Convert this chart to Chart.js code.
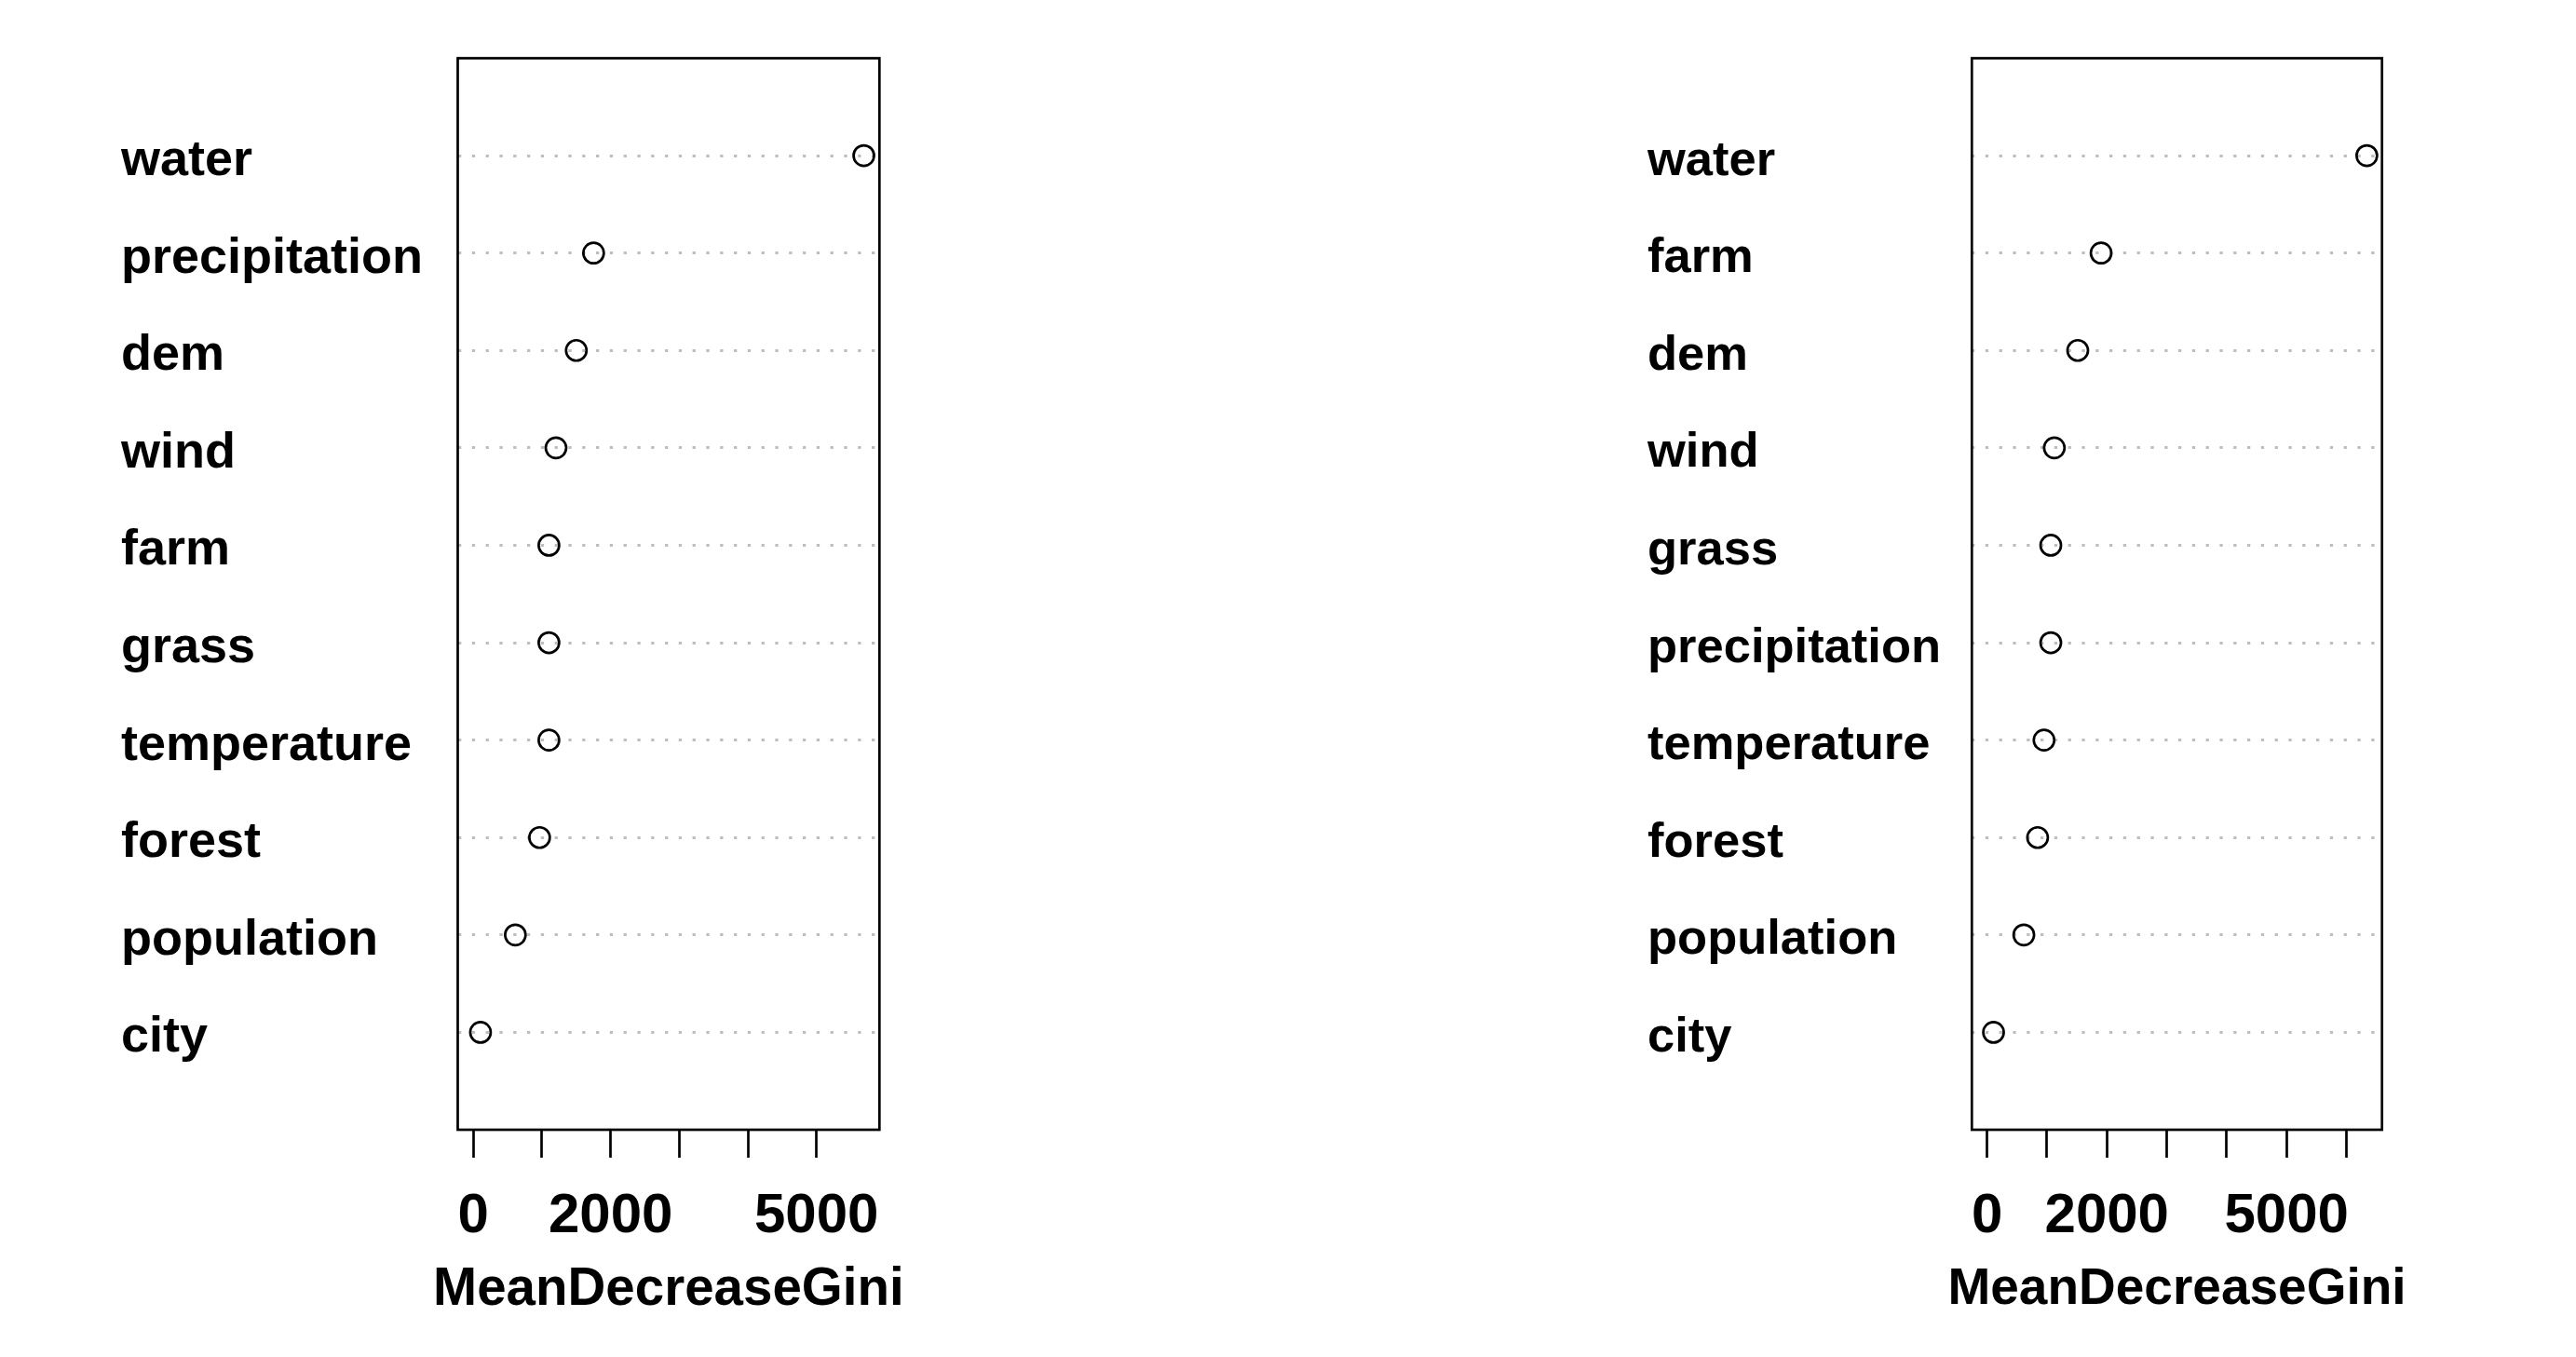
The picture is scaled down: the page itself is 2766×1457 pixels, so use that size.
<!DOCTYPE html>
<html>
<head>
<meta charset="utf-8">
<script src="https://cdn.jsdelivr.net/npm/chart.js@4.4.1/dist/chart.umd.min.js"></script>
<style>
  body { margin: 0; background: #fff; }
  canvas { position: absolute; top: 0; }
</style>
</head>
<body>
<canvas id="leftChart" width="900" height="1457" style="left:100px"></canvas>
<canvas id="rightChart" width="900" height="1457" style="left:1740px"></canvas>
<script>
// variable importance
const leftLabels = ['water', 'precipitation', 'dem', 'wind', 'farm', 'grass', 'temperature', 'forest', 'population', 'city'];
const leftValues = [5690, 1752, 1500, 1204, 1101, 1101, 1101, 965, 612, 104];

const rightLabels = ['water', 'farm', 'dem', 'wind', 'grass', 'precipitation', 'temperature', 'forest', 'population', 'city'];
const rightValues = [6340, 1904, 1514, 1123, 1064, 1064, 951, 844, 614, 108];

const leftTicks = [0, 1000, 2000, 3000, 4000, 5000];
const rightTicks = [0, 1000, 2000, 3000, 4000, 5000, 6000];
const shownTickLabels = [0, 2000, 5000];
const axisTitle = 'MeanDecreaseGini';

const fontFamily = '"Liberation Sans", Arial, sans-serif';
Chart.defaults.font.family = fontFamily;
Chart.defaults.font.weight = 'bold';
Chart.defaults.color = '#000';

// frame round the plot and the x title (chart.js squeezes a title wider than its axis)
const boxPlugin = {
    id: 'box',
    afterDatasetsDraw(chart) {
        const a = chart.chartArea;
        const ctx = chart.ctx;
        ctx.save();
        ctx.strokeStyle = '#000';
        ctx.lineWidth = 2.7;
        ctx.strokeRect(a.left, a.top, a.right - a.left, a.bottom - a.top);
        ctx.restore();
    },
    afterDraw(chart, args, opts) {
        const a = chart.chartArea;
        const ctx = chart.ctx;
        ctx.save();
        ctx.fillStyle = '#000';
        ctx.font = 'bold ' + opts.titleSize + 'px ' + fontFamily;
        ctx.textAlign = 'center';
        ctx.textBaseline = 'middle';
        ctx.fillText(axisTitle, (a.left + a.right) / 2, 1385);
        ctx.restore();
    }
};

function makePanel(id, labels, values, ticks, padLeft, axisWidth, padRight, labelSize, titleSize) {
    const maxVal = Math.max(...values);
    const points = values.map((v, i) => ({x: v, y: i + 1}));

    return new Chart(document.getElementById(id), {
        type: 'scatter',
        data: {
            datasets: [{
                data: points,
                pointRadius: 11,
                pointHoverRadius: 11,
                pointBorderWidth: 2.7,
                pointBorderColor: '#000',
                pointBackgroundColor: 'rgba(0,0,0,0)'
            }]
        },
        options: {
            responsive: false,
            animation: false,
            devicePixelRatio: 1,
            layout: {padding: {left: padLeft, right: padRight, top: 62.5, bottom: 0}},
            plugins: {legend: {display: false}, tooltip: {enabled: false}, box: {titleSize: titleSize}},
            scales: {
                x: {
                    type: 'linear',
                    min: -0.04 * maxVal,
                    max: 1.04 * maxVal,
                    afterBuildTicks: s => { s.ticks = ticks.map(v => ({value: v})); },
                    afterFit: s => { s.height = 244; },
                    border: {display: false},
                    grid: {
                        drawOnChartArea: false,
                        drawTicks: true,
                        tickLength: 30,
                        tickColor: '#000',
                        tickWidth: 2.7
                    },
                    ticks: {
                        autoSkip: false,
                        maxRotation: 0,
                        padding: 27,
                        font: {size: 60},
                        callback: v => shownTickLabels.includes(v) ? String(v) : ''
                    }
                },
                y: {
                    type: 'linear',
                    reverse: true,
                    min: 0,
                    max: labels.length + 1,
                    afterBuildTicks: s => { s.ticks = labels.map((l, i) => ({value: i + 1})); },
                    afterFit: s => { s.width = axisWidth; },
                    border: {display: false, dash: [3.3, 11.5]},
                    grid: {
                        color: '#bebebe',
                        lineWidth: 3,
                        drawTicks: false
                    },
                    ticks: {
                        crossAlign: 'far',
                        labelOffset: 6,
                        font: {size: labelSize},
                        callback: v => labels[v - 1] || ''
                    }
                }
            }
        },
        plugins: [boxPlugin]
    });
}

makePanel('leftChart', leftLabels, leftValues, leftTicks, 30, 361.5, 55.7, 54, 56.5);
makePanel('rightChart', rightLabels, rightValues, rightTicks, 29, 348.3, 82.3, 52.5, 55);
</script>
</body>
</html>
